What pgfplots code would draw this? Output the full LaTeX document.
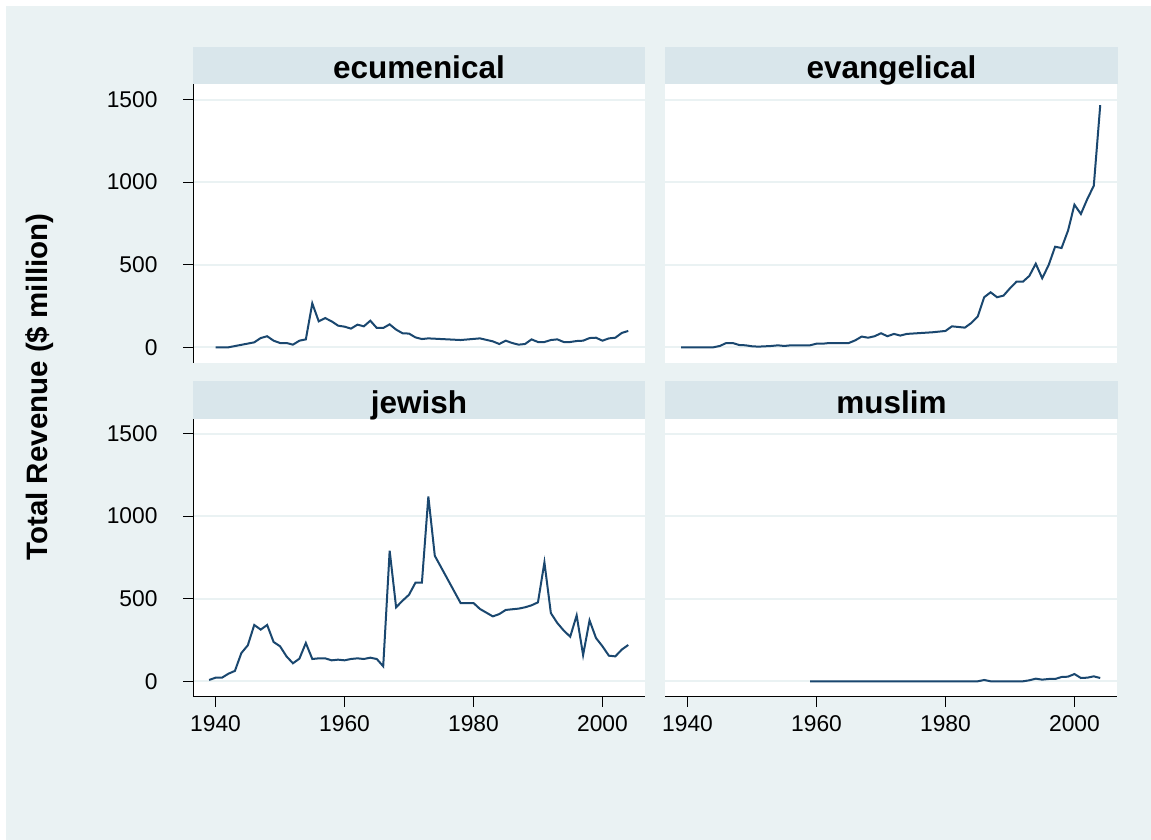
\documentclass[border=0pt]{standalone}
\usepackage{pgfplots}
\pgfplotsset{compat=1.18}
\usepackage{fontspec}
\setmainfont{Liberation Sans}

\definecolor{bgcol}{HTML}{EAF2F3}
\definecolor{stripcol}{HTML}{D9E6EB}
\definecolor{gridcol}{HTML}{EAF2F3}
\definecolor{linecol}{HTML}{1A476F}

\pgfplotsset{
  panel/.style={
    scale only axis, width=452pt, height=278.5pt,
    xmin=1936.5, xmax=2006.6, ymin=-95, ymax=1591,
    xtick={1940,1960,1980,2000}, ytick={0,500,1000,1500},
    axis x line*=bottom, axis y line*=left,
    axis line style={-, black, line width=1pt},
    tick align=outside, major tick length=10pt,
    tick style={black, line width=0.8pt},
    ymajorgrids, grid style={gridcol, line width=2pt},
    axis background/.style={fill=white},
    tick label style={font=\fontsize{22.8}{26}\selectfont},
    yticklabel style={xshift=-22pt},
    xticklabel style={yshift=-5pt},
    /pgf/number format/assume math mode=true,
    /pgf/number format/1000 sep={},
  },
  noxaxis/.style={x axis line style={draw=none}, xtick style={draw=none}, xticklabels={}},
  noyaxis/.style={y axis line style={draw=none}, ytick style={draw=none}, yticklabels={}},
  rev/.style={linecol, line width=2pt, mark=none},
}

\begin{document}
\begin{tikzpicture}[x=1pt,y=1pt]
\fill[white] (0,0) rectangle (1151,840);
\fill[bgcol] (6,0) rectangle (1151,834);

% ecumenical
\begin{axis}[panel, noxaxis, at={(193pt,477pt)}, anchor=south west]
\addplot[rev] coordinates {
(1940,0)(1942,0)(1946,30)(1947,56)(1948,67)(1949,40)(1950,26)(1951,26)(1952,16)
(1953,40)(1954,48)(1955,266)(1956,157)(1957,177)(1958,157)(1959,131)(1960,125)
(1961,113)(1962,137)(1963,127)(1964,161)(1965,117)(1966,117)(1967,139)(1968,107)
(1969,85)(1970,83)(1971,60)(1972,50)(1973,54)(1978,44)(1981,54)(1983,36)(1984,20)
(1985,40)(1986,26)(1987,16)(1988,20)(1989,48)(1990,32)(1991,32)(1992,44)(1993,48)
(1994,32)(1995,32)(1996,38)(1997,40)(1998,56)(1999,58)(2000,40)(2001,54)(2002,58)
(2003,87)(2004,99)};
\end{axis}

% evangelical
\begin{axis}[panel, noxaxis, noyaxis, at={(665pt,477pt)}, anchor=south west]
\addplot[rev] coordinates {
(1939,0)(1944,0)(1945,8)(1946,26)(1947,26)(1948,14)(1949,12)(1950,6)(1951,4)
(1952,6)(1953,8)(1954,12)(1955,8)(1956,12)(1959,12)(1960,22)(1961,22)(1962,26)
(1965,26)(1966,42)(1967,65)(1968,58)(1969,67)(1970,85)(1971,67)(1972,81)(1973,71)
(1974,81)(1978,91)(1980,99)(1981,127)(1983,119)(1984,147)(1985,186)(1986,303)
(1987,333)(1988,303)(1989,313)(1990,357)(1991,397)(1992,397)(1993,432)(1994,506)
(1995,418)(1996,498)(1997,609)(1998,601)(1999,706)(2000,863)(2001,807)(2002,898)
(2003,978)(2004,1466)};
\end{axis}

% jewish
\begin{axis}[panel, at={(193pt,143pt)}, anchor=south west]
\addplot[rev] coordinates {
(1939,8)(1940,22)(1941,22)(1942,46)(1943,63)(1944,171)(1945,218)(1946,341)
(1947,313)(1948,341)(1949,238)(1950,212)(1951,151)(1952,109)(1953,137)(1954,232)
(1955,135)(1956,139)(1957,139)(1958,127)(1959,131)(1960,127)(1961,135)(1962,139)
(1963,135)(1964,143)(1965,135)(1966,91)(1967,791)(1968,448)(1969,488)(1970,524)
(1971,597)(1972,597)(1973,1119)(1974,760)(1978,474)(1980,474)(1981,438)(1983,393)
(1984,407)(1985,432)(1987,440)(1988,448)(1989,460)(1990,478)(1991,720)(1992,413)
(1993,353)(1994,307)(1995,270)(1996,399)(1997,159)(1998,369)(1999,262)(2000,212)
(2001,155)(2002,151)(2003,192)(2004,220)};
\end{axis}

% muslim
\begin{axis}[panel, noyaxis, at={(665pt,143pt)}, anchor=south west]
\addplot[rev] coordinates {
(1959,0)(1985,0)(1986,8)(1987,0)(1992,0)(1993,6)(1994,16)(1995,10)(1996,14)
(1997,14)(1998,26)(1999,28)(2000,44)(2001,20)(2002,22)(2003,30)(2004,20)};
\end{axis}

% strip titles
\fill[stripcol] (193,756) rectangle (645,793);
\fill[stripcol] (665,756) rectangle (1118,793);
\fill[stripcol] (193,421) rectangle (645,459);
\fill[stripcol] (665,421) rectangle (1118,459);
\begin{scope}[every node/.style={font=\fontsize{31.5}{34}\selectfont\bfseries, anchor=base, inner sep=0pt}]
\node at (419,761) {ecumenical};
\node at (891.5,761) {evangelical};
\node at (419,426) {jewish};
\node at (891.5,426) {muslim};
\end{scope}

\node[rotate=90, font=\fontsize{29.5}{32}\selectfont\bfseries] at (40,453) {Total Revenue (\$ million)};
\end{tikzpicture}
\end{document}
